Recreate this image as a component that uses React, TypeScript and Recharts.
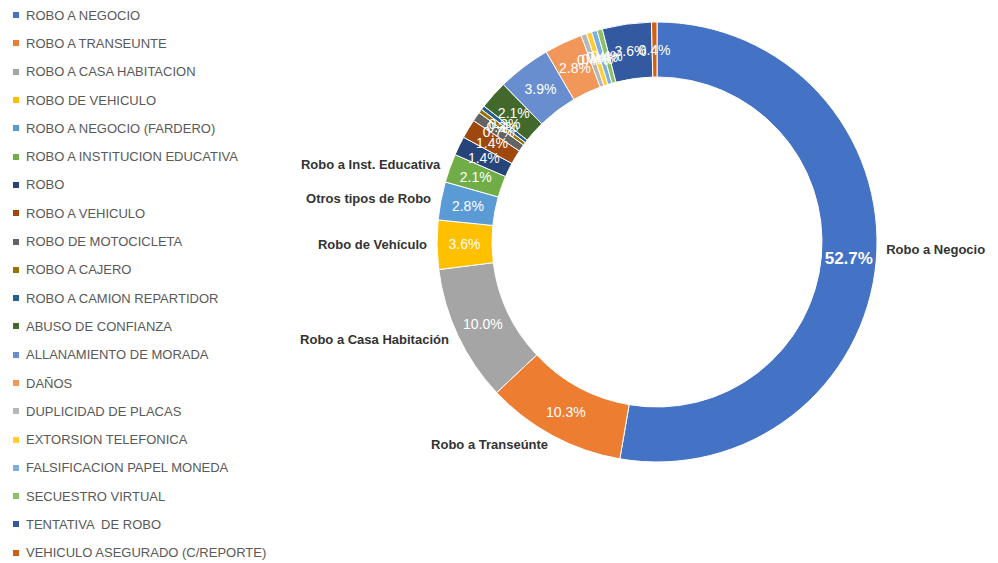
import { PieChart, Pie, Cell } from 'recharts';

const categories = [
  'ROBO A NEGOCIO',
  'ROBO A TRANSEUNTE',
  'ROBO A CASA HABITACION',
  'ROBO DE VEHICULO',
  'ROBO A NEGOCIO (FARDERO)',
  'ROBO A INSTITUCION EDUCATIVA',
  'ROBO',
  'ROBO A VEHICULO',
  'ROBO DE MOTOCICLETA',
  'ROBO A CAJERO',
  'ROBO A CAMION REPARTIDOR',
  'ABUSO DE CONFIANZA',
  'ALLANAMIENTO DE MORADA',
  'DAÑOS',
  'DUPLICIDAD DE PLACAS',
  'EXTORSION TELEFONICA',
  'FALSIFICACION PAPEL MONEDA',
  'SECUESTRO VIRTUAL',
  'TENTATIVA  DE ROBO',
  'VEHICULO ASEGURADO (C/REPORTE)',
];

// percentages
const values = [52.7, 10.3, 10.0, 3.6, 2.8, 2.1, 1.4, 1.4, 0.7, 0.3, 0.3, 2.1, 3.9, 2.8, 0.4, 0.4, 0.4, 0.4, 3.6, 0.4];

// names written outside the ring (only some slices have one)
const callouts = [
  'Robo a Negocio',
  'Robo a Transeúnte',
  'Robo a Casa Habitación',
  'Robo de Vehículo',
  'Otros tipos de Robo',
  'Robo a Inst. Educativa',
  '', '', '', '', '', '', '', '', '', '', '', '', '', '',
];

const colors = [
  '#4472C4', '#ED7D31', '#A5A5A5', '#FFC000', '#5B9BD5', '#70AD47',
  '#264478', '#9E480E', '#636363', '#997300', '#255E91', '#43682B',
  '#698ED0', '#F1975A', '#B7B7B7', '#FFCD33', '#7CAFDD', '#8CC168',
  '#335AA1', '#D26012',
];

const FONT = '"Liberation Sans", Arial, sans-serif';
const RADIAN = Math.PI / 180;

function renderLabel(props: any) {
  const { cx, cy, midAngle, innerRadius, outerRadius, percent, index } = props;
  const cos = Math.cos(-midAngle * RADIAN);
  const sin = Math.sin(-midAngle * RADIAN);
  const r = (innerRadius + outerRadius) / 2;
  const big = percent > 0.5;
  const name = callouts[index];
  const ro = outerRadius + 10;
  return (
    <g>
      <text
        x={cx + r * cos}
        y={cy + r * sin}
        fill="#fff"
        textAnchor="middle"
        dominantBaseline="central"
        fontSize={big ? 17 : 14}
        fontWeight={big ? 700 : 400}
        fontFamily={FONT}
      >
        {(percent * 100).toFixed(1)}%
      </text>
      {name && (
        <text
          x={cx + ro * cos}
          y={cy + ro * sin - (big ? 12 : 0)}
          fill="#333"
          textAnchor={cos >= 0 ? 'start' : 'end'}
          dominantBaseline="central"
          fontSize={13}
          fontWeight={700}
          fontFamily={FONT}
        >
          {name}
        </text>
      )}
    </g>
  );
}

export default function App() {
  const data = categories.map((name, i) => ({ name, value: values[i] }));

  return (
    <div style={{ position: 'relative', width: 998, height: 563, background: '#fff' }}>
      <style>{'body { margin: 0; }'}</style>
      <div style={{ position: 'absolute', left: 0, top: 1, fontFamily: FONT, fontSize: 13, color: '#595959' }}>
        {categories.map((c, i) => (
          <div key={c} style={{ height: 28.3, display: 'flex', alignItems: 'center', whiteSpace: 'pre' }}>
            <span style={{ width: 6, height: 6, marginLeft: 13, marginRight: 7, background: colors[i] }} />
            {c}
          </div>
        ))}
      </div>
      <div style={{ position: 'absolute', left: 0, top: 0 }}>
        <PieChart width={998} height={563}>
          <Pie
            data={data}
            dataKey="value"
            nameKey="name"
            cx={652}
            cy={237}
            innerRadius={165}
            outerRadius={220}
            startAngle={90}
            endAngle={-270}
            stroke="#fff"
            strokeWidth={1}
            label={renderLabel}
            labelLine={false}
            isAnimationActive={false}
          >
            {data.map((d, i) => (
              <Cell key={d.name} fill={colors[i]} />
            ))}
          </Pie>
        </PieChart>
      </div>
    </div>
  );
}
